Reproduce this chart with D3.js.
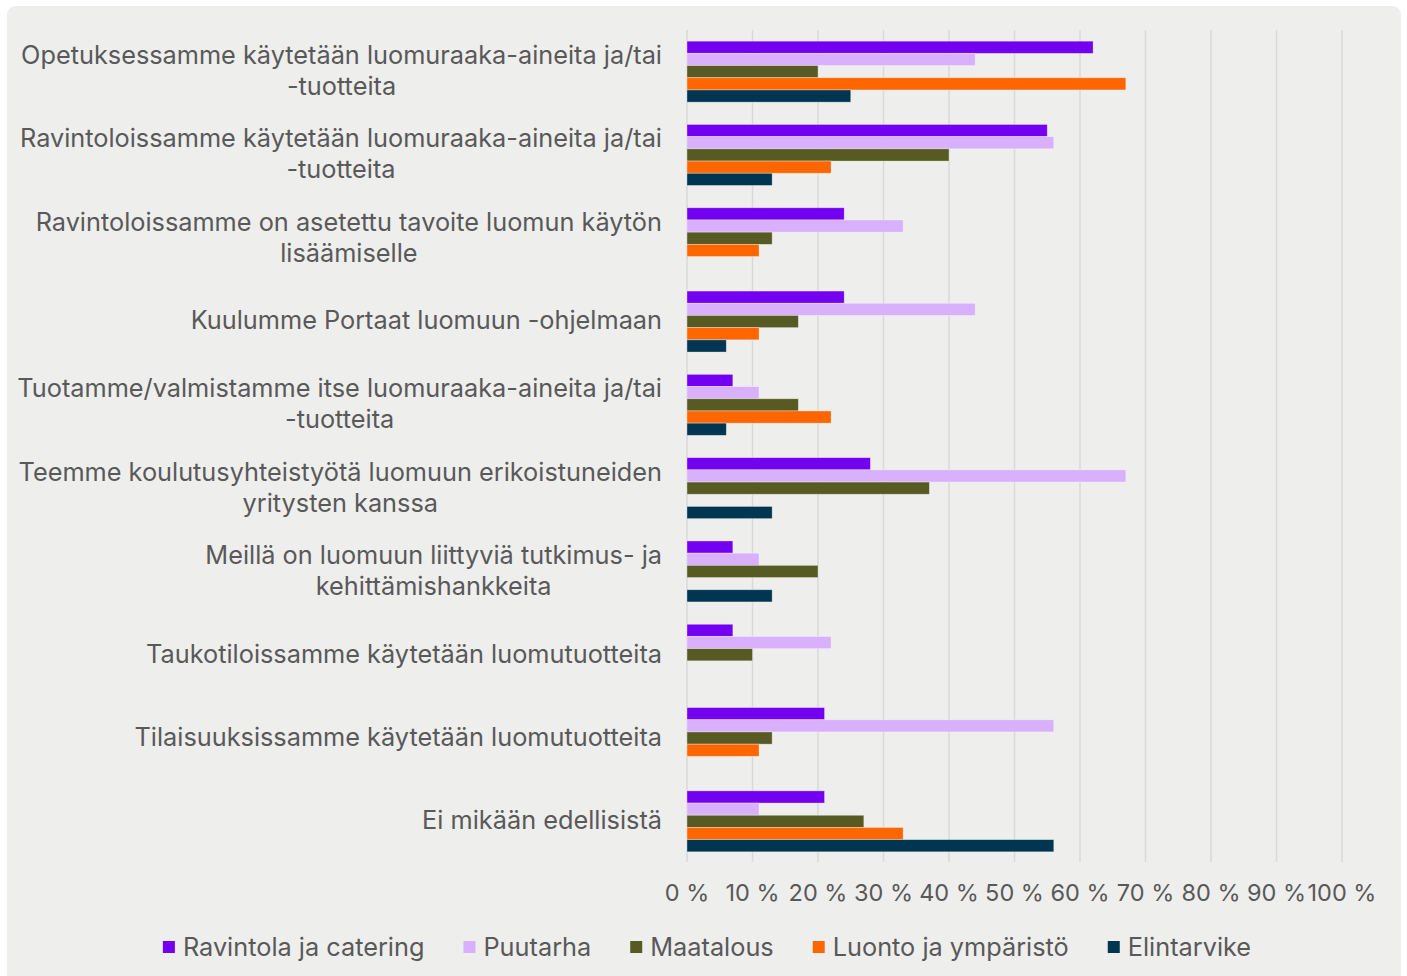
<!DOCTYPE html>
<html><head><meta charset="utf-8">
<script src="https://cdn.jsdelivr.net/npm/d3@7"></script>
<style>html,body{margin:0;padding:0;background:#fff;}svg{display:block;}</style>
</head><body>
<svg id="chart" width="1407" height="976"></svg>
<script>
const categories = [
  ["Opetuksessamme käytetään luomuraaka-aineita ja/tai", "-tuotteita"],
  ["Ravintoloissamme käytetään luomuraaka-aineita ja/tai", "-tuotteita"],
  ["Ravintoloissamme on asetettu tavoite luomun käytön", "lisäämiselle"],
  ["Kuulumme Portaat luomuun -ohjelmaan"],
  ["Tuotamme/valmistamme itse luomuraaka-aineita ja/tai", "-tuotteita"],
  ["Teemme koulutusyhteistyötä luomuun erikoistuneiden", "yritysten kanssa"],
  ["Meillä on luomuun liittyviä tutkimus- ja", "kehittämishankkeita"],
  ["Taukotiloissamme käytetään luomutuotteita"],
  ["Tilaisuuksissamme käytetään luomutuotteita"],
  ["Ei mikään edellisistä"]
];
const seriesNames = ["Ravintola ja catering", "Puutarha", "Maatalous", "Luonto ja ympäristö", "Elintarvike"];
const seriesColors = ["#7300f0", "#d9b0fb", "#585a24", "#ff6600", "#003651"];
const ravintola   = [0.62, 0.55, 0.24, 0.24, 0.07, 0.28, 0.07, 0.07, 0.21, 0.21];
const puutarha    = [0.44, 0.56, 0.33, 0.44, 0.11, 0.67, 0.11, 0.22, 0.56, 0.11];
const maatalous   = [0.20, 0.40, 0.13, 0.17, 0.17, 0.37, 0.20, 0.10, 0.13, 0.27];
const luonto      = [0.67, 0.22, 0.11, 0.11, 0.22, 0, 0, 0, 0.11, 0.33];
const elintarvike = [0.25, 0.13, 0, 0.06, 0.06, 0.13, 0.13, 0, 0, 0.56];
const xTicks = [0, 0.1, 0.2, 0.3, 0.4, 0.5, 0.6, 0.7, 0.8, 0.9, 1.0];

const seriesValues = [ravintola, puutarha, maatalous, luonto, elintarvike];
const svg = d3.select("#chart");
const FONT = "Inter, 'Noto Sans', sans-serif";
const TXT = "#595959";
const LABEL_SIZE = 25.3;

svg.append("rect").attr("x", 7).attr("y", 6).attr("width", 1394).attr("height", 985)
  .attr("rx", 9).attr("fill", "#eeeeed");

const x = d3.scaleLinear().domain([0, 1]).range([687, 1342]);
const idx = d3.range(categories.length);
const y = d3.scaleBand().domain(idx).range([30, 863]).paddingInner(0.268).paddingOuter(0.134);
const ys = d3.scaleBand().domain(d3.range(seriesNames.length)).range([0, y.bandwidth()]);

// gridlines
svg.append("g").selectAll("line").data(xTicks).join("line")
  .attr("x1", d => x(d)).attr("x2", d => x(d))
  .attr("y1", 30).attr("y2", 862)
  .attr("stroke", "#d9d9d9").attr("stroke-width", 1.5);

// bars
const groups = svg.append("g").selectAll("g").data(idx).join("g")
  .attr("transform", i => `translate(0,${y(i)})`);
groups.selectAll("rect").data(i => seriesValues.map((arr, s) => ({s, v: arr[i]})).filter(d => d.v > 0))
  .join("rect")
  .attr("x", x(0)).attr("y", d => ys(d.s))
  .attr("width", d => x(d.v) - x(0)).attr("height", ys.bandwidth())
  .attr("fill", d => seriesColors[d.s])
  .attr("stroke", "#ffffff").attr("stroke-opacity", 0.45).attr("stroke-width", 0.75);

// category labels
const lineH = 31;
idx.forEach(i => {
  const lines = categories[i];
  const g = svg.append("g");
  const cy = y(i) + y.bandwidth() / 2 - 1;
  const texts = lines.map((t, k) => g.append("text")
    .attr("y", cy + (k - (lines.length - 1) / 2) * lineH)
    .attr("dy", "0.35em")
    .attr("font-family", FONT).attr("font-size", LABEL_SIZE).attr("fill", TXT)
    .attr("text-anchor", "middle").text(t));
  const maxW = d3.max(texts, t => t.node().getComputedTextLength());
  texts.forEach(t => t.attr("x", 662 - maxW / 2));
});

// x tick labels
svg.append("g").selectAll("text").data(xTicks).join("text")
  .attr("x", d => x(d)).attr("y", 893).attr("dy", "0.35em")
  .attr("text-anchor", "middle")
  .attr("font-family", FONT).attr("font-size", 23.5).attr("fill", TXT)
  .text(d => Math.round(d * 100) + " %");

// legend
const leg = svg.append("g");
const legGap = 39;
let lx = 0;
seriesNames.forEach((n, s) => {
  const g = leg.append("g");
  g.append("rect").attr("x", 0).attr("y", -6).attr("width", 12).attr("height", 12).attr("fill", seriesColors[s]);
  const t = g.append("text").attr("x", 20).attr("y", 0).attr("dy", "0.35em")
    .attr("font-family", FONT).attr("font-size", LABEL_SIZE).attr("fill", TXT).text(n);
  const w = 20 + t.node().getComputedTextLength();
  g.attr("transform", `translate(${lx},0)`);
  lx += w + legGap;
});
const totalW = lx - legGap;
leg.attr("transform", `translate(${707 - totalW / 2},947)`);
</script>
</body></html>
